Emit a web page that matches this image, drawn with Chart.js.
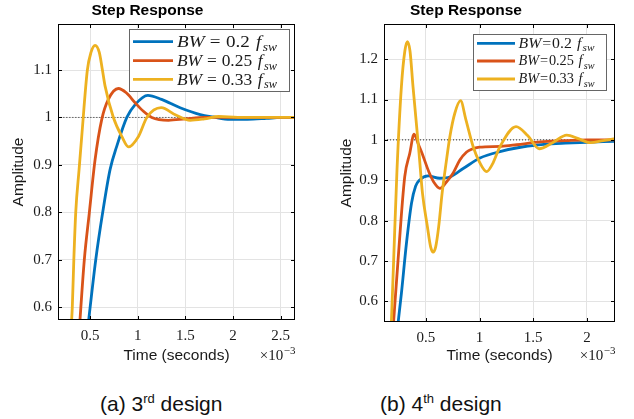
<!DOCTYPE html>
<html>
<head>
<meta charset="utf-8">
<script src="https://cdn.jsdelivr.net/npm/chart.js@4.4.1/dist/chart.umd.min.js"></script>
<style>
  body { margin: 0; background: #fff; width: 634px; height: 419px; position: relative; overflow: hidden; }
  canvas { position: absolute; top: 0; }
  #design3 { left: 0; }
  #design4 { left: 317px; }
  .cap { position: absolute; top: 393px; font: 21px 'Liberation Sans', Arial, sans-serif; line-height: 21px; color: #111; white-space: nowrap; }
  .cap sup { font-size: 13px; line-height: 0; vertical-align: 8px; }
</style>
</head>
<body>
<canvas id="design3" width="317" height="370"></canvas>
<canvas id="design4" width="317" height="370"></canvas>
<div class="cap" style="left:100px">(a) 3<sup>rd</sup> design</div>
<div class="cap" style="left:380px">(b) 4<sup>th</sup> design</div>
<script>
// bandwidths as fractions of f_sw, one curve each
const bwLabels = ['0.2', '0.25', '0.33'];
const lineColors = ['#0072BD', '#D95319', '#EDB120'];
const steadyState = 1;

// time axis in units of 1e-3 s
const xTickStep = 0.5;
const yTickStep = 0.1;

// 3rd design step responses
const t3bw20 = [0.47, 0.56, 0.633, 0.71, 0.78, 0.886, 0.973, 1.106, 1.25, 1.445, 1.656, 1.79, 1.97, 2.15, 2.35, 2.5, 2.7];
const y3bw20 = [0.545, 0.70, 0.80, 0.89, 0.939, 1.0, 1.027, 1.0465, 1.038, 1.0205, 1.006, 1.001, 0.996, 0.996, 0.998, 1.0, 1.0];
const t3bw25 = [0.385, 0.44, 0.493, 0.553, 0.623, 0.692, 0.797, 0.88, 0.973, 1.06, 1.148, 1.323, 1.5, 1.7, 2.0, 2.7];
const y3bw25 = [0.545, 0.70, 0.80, 0.911, 0.996, 1.038, 1.061, 1.052, 1.031, 1.013, 1.0, 0.994, 0.997, 1.0, 1.0, 1.0];
const t3bw33 = [0.30, 0.314, 0.33, 0.35, 0.385, 0.413, 0.472, 0.51, 0.553, 0.597, 0.63, 0.658, 0.745, 0.833, 0.903, 1.008, 1.096, 1.246, 1.4, 1.55, 1.7, 1.85, 2.05, 2.7];
const y3bw33 = [0.55, 0.60, 0.70, 0.80, 0.89, 0.96, 1.10, 1.137, 1.152, 1.137, 1.10, 1.066, 1.0, 0.96, 0.938, 0.96, 1.0, 1.0205, 1.005, 0.994, 0.997, 1.002, 1.0, 1.0];

// 4th design step responses
const t4bw20 = [0.235, 0.273, 0.32, 0.367, 0.405, 0.444, 0.521, 0.63, 0.724, 0.848, 1.004, 1.19, 1.408, 1.6, 1.8, 2.0, 2.3];
const y4bw20 = [0.53, 0.62, 0.744, 0.843, 0.885, 0.901, 0.911, 0.905, 0.908, 0.929, 0.955, 0.971, 0.983, 0.989, 0.992, 0.994, 0.997];
const t4bw25 = [0.195, 0.242, 0.304, 0.351, 0.391, 0.43, 0.465, 0.53, 0.58, 0.631, 0.69, 0.755, 0.817, 0.88, 0.926, 1.0, 1.2, 1.346, 1.563, 1.8, 2.0, 2.3];
const y4bw25 = [0.53, 0.703, 0.909, 0.967, 1.014, 0.99, 0.967, 0.92, 0.893, 0.880, 0.895, 0.918, 0.95, 0.970, 0.977, 0.982, 0.984, 0.988, 0.995, 0.998, 1.0, 1.0];
const t4bw33 = [0.176, 0.180, 0.201, 0.232, 0.273, 0.305, 0.329, 0.353, 0.381, 0.437, 0.469, 0.515, 0.545, 0.568, 0.592, 0.62, 0.652, 0.69, 0.724, 0.77, 0.824, 0.873, 0.941, 1.0, 1.066, 1.12, 1.19, 1.34, 1.45, 1.555, 1.68, 1.812, 1.92, 2.03, 2.15, 2.3];
const y4bw33 = [0.52, 0.55, 0.703, 0.926, 1.132, 1.22, 1.243, 1.22, 1.132, 0.968, 0.868, 0.785, 0.735, 0.722, 0.735, 0.785, 0.868, 0.945, 1.008, 1.066, 1.097, 1.05, 0.983, 0.945, 0.9215, 0.94, 0.983, 1.033, 1.01, 0.978, 0.993, 1.012, 1.003, 0.993, 0.998, 1.005];

const zip = (t, y) => t.map((v, i) => ({ x: v, y: y[i] }));
const fmt = v => String(+v.toFixed(2));
const TEXT = '#1a1a1a';

// LaTeX-like "BW = 0.2 f_sw" label, stretched to a given width
function drawBwLabel(ctx, x, y, bw, size, spaced, width) {
  const it = `italic ${size}px 'Liberation Serif'`;
  const up = `${size}px 'Liberation Serif'`;
  const sub = `italic ${Math.round(size * 0.7)}px 'Liberation Serif'`;
  const g = spaced ? size * 0.28 : size * 0.06;
  const parts = [
    { f: it, t: 'BW' }, { gap: g }, { f: up, t: '=' }, { gap: g },
    { f: up, t: bw }, { gap: size * 0.33 }, { f: it, t: 'f' }, { gap: size * 0.08 },
    { f: sub, t: 'sw', dy: size * 0.22 }
  ];
  let total = 0;
  parts.forEach(p => {
    if (p.gap) { total += p.gap; return; }
    ctx.font = p.f;
    p.w = ctx.measureText(p.t).width;
    total += p.w;
  });
  ctx.save();
  ctx.translate(x, y);
  ctx.scale(width / total, 1);
  ctx.fillStyle = TEXT;
  ctx.textBaseline = 'alphabetic';
  ctx.textAlign = 'left';
  let cx = 0;
  parts.forEach(p => {
    if (p.gap) { cx += p.gap; return; }
    ctx.font = p.f;
    ctx.fillText(p.t, cx, p.dy || 0);
    cx += p.w;
  });
  ctx.restore();
}

// box frame, inward ticks, legend and the x10^-3 exponent
const matlabBox = {
  id: 'matlabBox',
  afterDraw(chart, args, o) {
    const { ctx, chartArea: a, scales: { x, y } } = chart;
    ctx.save();
    ctx.strokeStyle = '#000';
    ctx.lineWidth = 1;
    ctx.beginPath();
    x.ticks.forEach(t => {
      const px = Math.round(x.getPixelForValue(t.value)) + 0.5;
      ctx.moveTo(px, a.bottom); ctx.lineTo(px, a.bottom - 4);
      ctx.moveTo(px, a.top); ctx.lineTo(px, a.top + 4);
    });
    y.ticks.forEach(t => {
      const py = Math.round(y.getPixelForValue(t.value)) + 0.5;
      ctx.moveTo(a.left, py); ctx.lineTo(a.left + 4, py);
      ctx.moveTo(a.right, py); ctx.lineTo(a.right - 4, py);
    });
    ctx.stroke();
    ctx.strokeRect(Math.round(a.left) + 0.5, Math.round(a.top) + 0.5,
      Math.round(a.right - a.left) - 1, Math.round(a.bottom - a.top) - 1);

    // legend
    const L = o.legend;
    ctx.fillStyle = '#fff';
    ctx.fillRect(L.x, L.y, L.w, L.h);
    ctx.strokeStyle = '#666';
    ctx.strokeRect(L.x + 0.5, L.y + 0.5, L.w, L.h);
    bwLabels.forEach((bw, i) => {
      const ry = L.rows[i];
      ctx.strokeStyle = lineColors[i];
      ctx.lineWidth = 2.8;
      ctx.beginPath();
      ctx.moveTo(L.lineX0, ry); ctx.lineTo(L.lineX1, ry);
      ctx.stroke();
      drawBwLabel(ctx, L.textX, ry + L.size * 0.32, bw, L.size, L.spaced, L.textW);
    });

    // exponent of the time axis
    ctx.fillStyle = TEXT;
    ctx.textBaseline = 'alphabetic';
    ctx.textAlign = 'left';
    ctx.font = "15px 'Liberation Serif'";
    const w1 = ctx.measureText('\u00d710').width;
    ctx.font = "11px 'Liberation Serif'";
    const w2 = ctx.measureText('\u22123').width;
    const x0 = a.right - w1 - w2;
    ctx.font = "15px 'Liberation Serif'";
    ctx.fillText('\u00d710', x0, o.expY);
    ctx.font = "11px 'Liberation Serif'";
    ctx.fillText('\u22123', x0 + w1 + 0.5, o.expY - 6);
    ctx.restore();
  }
};

function makeChart(id, c) {
  const series = [c.bw20, c.bw25, c.bw33].map((d, i) => ({
    data: d, borderColor: lineColors[i], order: 2 - i
  }));
  const ref = {
    data: [{ x: 0, y: steadyState }, { x: 3, y: steadyState }],
    borderColor: '#222', borderWidth: 1, borderDash: [1, 2], order: 3
  };
  const tickFont = { family: 'Liberation Serif', size: 15 };
  const labFont = { family: 'Liberation Sans', size: 15.5 };
  return new Chart(document.getElementById(id), {
    type: 'line',
    data: { datasets: [ref, ...series] },
    options: {
      responsive: false,
      animation: false,
      events: [],
      layout: { padding: { left: 0, right: c.padRight, top: 0, bottom: 0 } },
      elements: {
        point: { radius: 0 },
        line: { borderWidth: 2.8, cubicInterpolationMode: 'monotone', fill: false }
      },
      plugins: {
        legend: { display: false },
        tooltip: { enabled: false },
        title: {
          display: true, text: 'Step Response', color: '#000',
          font: { family: 'Liberation Sans', size: 15.5, weight: 'bold' },
          padding: { top: 1, bottom: 4.4 }
        },
        matlabBox: c.box
      },
      scales: {
        x: {
          type: 'linear', min: c.xMin, max: c.xMax,
          afterFit: s => { s.height = c.xAxisH; },
          grid: { color: '#e3e3e3', drawTicks: false },
          border: { display: false },
          ticks: { stepSize: xTickStep, includeBounds: false, callback: fmt, font: tickFont, color: TEXT, padding: 7, maxRotation: 0 },
          title: { display: true, text: 'Time (seconds)', font: labFont, color: TEXT, padding: { top: 0, bottom: 5 } }
        },
        y: {
          min: c.yMin, max: c.yMax,
          afterFit: s => { s.width = c.yAxisW; },
          grid: { color: '#e3e3e3', drawTicks: false },
          border: { display: false },
          ticks: { stepSize: yTickStep, includeBounds: false, callback: fmt, font: tickFont, color: TEXT, padding: 6 },
          title: { display: true, text: 'Amplitude', font: labFont, color: TEXT, padding: { top: c.yTitlePad, bottom: 0 } }
        }
      }
    },
    plugins: [matlabBox]
  });
}

makeChart('design3', {
  bw20: zip(t3bw20, y3bw20), bw25: zip(t3bw25, y3bw25), bw33: zip(t3bw33, y3bw33),
  xMin: 0.164, xMax: 2.65, yMin: 0.573, yMax: 1.197,
  padRight: 22, xAxisH: 50, yAxisW: 58, yTitlePad: 9.7,
  box: {
    expY: 359.5,
    legend: { x: 129, y: 29, w: 160, h: 62, lineX0: 133, lineX1: 173, textX: 177, textW: 100,
      rows: [41.7, 60.7, 79.3], size: 17, spaced: true }
  }
});

makeChart('design4', {
  bw20: zip(t4bw20, y4bw20), bw25: zip(t4bw25, y4bw25), bw33: zip(t4bw33, y4bw33),
  xMin: 0.111, xMax: 2.261, yMin: 0.549, yMax: 1.287,
  padRight: 19, xAxisH: 48, yAxisW: 67, yTitlePad: 20.7,
  box: {
    expY: 360,
    legend: { x: 156, y: 34, w: 133, h: 56, lineX0: 160, lineX1: 198, textX: 201.5, textW: 76,
      rows: [43.3, 61, 79], size: 14, spaced: false }
  }
});
</script>
</body>
</html>
